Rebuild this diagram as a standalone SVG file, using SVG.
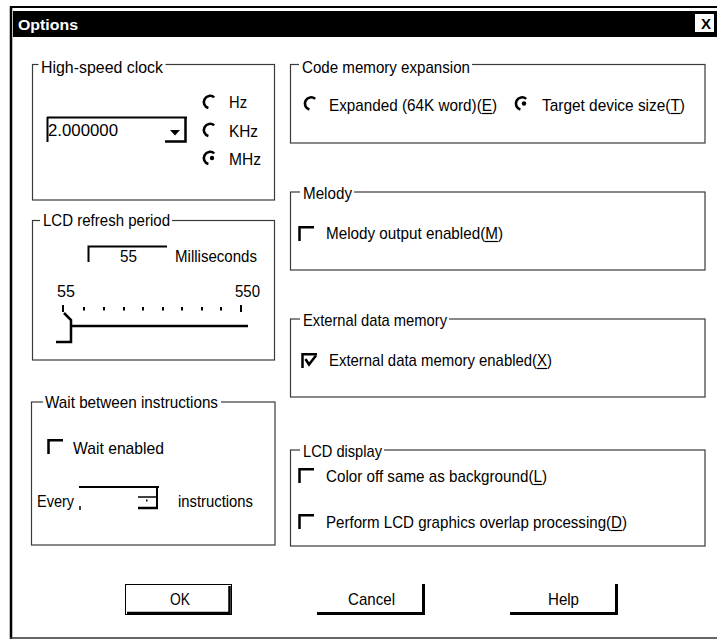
<svg xmlns="http://www.w3.org/2000/svg" width="717" height="639" viewBox="0 0 717 639">
<defs>
<style>
text{font-family:"Liberation Sans",Arial,sans-serif;font-size:17px;fill:#000}
.ttl{font-weight:bold;fill:#fff;font-size:14px}
.grp{fill:none;stroke:#3a3a3a;stroke-width:1.2}
.gap{fill:#fff}
.ln{fill:none;stroke:#000;stroke-width:2.5}
.tk{stroke:#000;stroke-width:2}
.ul{stroke:#000;stroke-width:1.2}
.mid{text-anchor:middle}
</style>
<path id="radio" d="M4.2,-4.6 A6.2,6.2 0 1 0 -1.6,6" fill="none" stroke="#000" stroke-width="2.6"/>
<path id="chk" d="M0.5,15 V1.2 H15" fill="none" stroke="#000" stroke-width="2.5"/>
</defs>
<rect width="717" height="639" fill="#fff"/>

<g id="frame">
<line x1="11" y1="6" x2="11" y2="639" stroke="#000" stroke-width="2.5"/>
<line x1="10" y1="7" x2="717" y2="7" stroke="#000" stroke-width="2"/>
<line x1="10" y1="638" x2="717" y2="638" stroke="#333" stroke-width="1.5"/>
</g>

<g id="titlebar">
<rect x="13" y="11" width="704" height="26" fill="#000"/>
<text class="ttl" x="18" y="30" textLength="60" lengthAdjust="spacingAndGlyphs">Options</text>
<rect x="695" y="14" width="19" height="18" fill="#fff"/>
<text x="706" y="28.5" class="mid" style="font-weight:bold;font-size:15px">X</text>
</g>

<g id="high-speed-clock">
<rect class="grp" x="32.5" y="64.5" width="242" height="135.5"/>
<rect class="gap" x="38.5" y="56" width="127" height="16"/>
<text x="41" y="73" textLength="122" lengthAdjust="spacingAndGlyphs">High-speed clock</text>
<path d="M47,117.5 H187 M47.5,117 V142" fill="none" stroke="#000" stroke-width="2"/>
<path d="M185.5,117 V141.5 H165" class="ln"/>
<polygon points="170,130 180,130 175,135.5" fill="#000"/>
<text x="48" y="136" textLength="70" lengthAdjust="spacingAndGlyphs">2.000000</text>
<use href="#radio" x="210" y="102"/>
<text x="229" y="108" textLength="18" lengthAdjust="spacingAndGlyphs">Hz</text>
<use href="#radio" x="210" y="130"/>
<text x="229" y="137" textLength="29" lengthAdjust="spacingAndGlyphs">KHz</text>
<use href="#radio" x="210" y="158"/>
<circle cx="212" cy="158" r="2.2" fill="#000"/>
<text x="229" y="165" textLength="32" lengthAdjust="spacingAndGlyphs">MHz</text>
</g>

<g id="lcd-refresh-period">
<rect class="grp" x="32.5" y="220.5" width="242" height="139.5"/>
<rect class="gap" x="40" y="212" width="132" height="16"/>
<text x="43" y="226" textLength="127" lengthAdjust="spacingAndGlyphs">LCD refresh period</text>
<path d="M88.5,262 V246.5 H167" fill="none" stroke="#000" stroke-width="2"/>
<text x="120" y="262" textLength="17" lengthAdjust="spacingAndGlyphs">55</text>
<text x="175" y="262" textLength="82" lengthAdjust="spacingAndGlyphs">Milliseconds</text>
<text x="57" y="297" textLength="18" lengthAdjust="spacingAndGlyphs">55</text>
<text x="235" y="297" textLength="25" lengthAdjust="spacingAndGlyphs">550</text>
<path class="tk" d="M63,305 V312 M84,307 V310.5 M104,307 V310.5 M124,307 V310.5 M143,307 V310.5 M163,307 V310.5 M182,307 V310.5 M202,307 V310.5 M221,307 V310.5 M241,305 V312"/>
<path d="M70,326 H248" class="ln"/>
<path d="M64,313 L71,320 V342 H56" class="ln"/>
</g>

<g id="wait-between-instructions">
<rect class="grp" x="31.5" y="402" width="243.5" height="143"/>
<rect class="gap" x="43" y="394" width="178" height="16"/>
<text x="45" y="408" textLength="173" lengthAdjust="spacingAndGlyphs">Wait between instructions</text>
<use href="#chk" x="48" y="439"/>
<text x="73" y="454" textLength="91" lengthAdjust="spacingAndGlyphs">Wait enabled</text>
<text x="37" y="507" textLength="37" lengthAdjust="spacingAndGlyphs">Every</text>
<path d="M79,487 H159" fill="none" stroke="#000" stroke-width="2"/>
<path d="M157,487 V508" fill="none" stroke="#000" stroke-width="2"/>
<path d="M138,497 H157" fill="none" stroke="#000" stroke-width="1.5"/>
<path d="M138,508 H158" class="ln"/>
<rect x="146" y="499.5" width="1.5" height="2" fill="#000"/>
<path d="M80,506 V510" fill="none" stroke="#000" stroke-width="1.5"/>
<text x="178" y="507" textLength="75" lengthAdjust="spacingAndGlyphs">instructions</text>
</g>

<g id="code-memory-expansion">
<rect class="grp" x="290.5" y="64.5" width="414.5" height="78.5"/>
<rect class="gap" x="299" y="56" width="173" height="16"/>
<text x="302" y="73" textLength="168" lengthAdjust="spacingAndGlyphs">Code memory expansion</text>
<use href="#radio" x="311" y="103.5"/>
<text x="329" y="111" textLength="168" lengthAdjust="spacingAndGlyphs">Expanded (64K word)(E)</text>
<line class="ul" x1="482" y1="113.5" x2="492" y2="113.5"/>
<use href="#radio" x="522" y="103.5"/>
<circle cx="524" cy="103.5" r="2.2" fill="#000"/>
<text x="542" y="111" textLength="143" lengthAdjust="spacingAndGlyphs">Target device size(T)</text>
<line class="ul" x1="670.5" y1="113.5" x2="680" y2="113.5"/>
</g>

<g id="melody">
<rect class="grp" x="290.5" y="192" width="414.5" height="78"/>
<rect class="gap" x="300" y="184" width="54" height="16"/>
<text x="303" y="199" textLength="49" lengthAdjust="spacingAndGlyphs">Melody</text>
<use href="#chk" x="299" y="226"/>
<text x="326" y="239" textLength="177" lengthAdjust="spacingAndGlyphs">Melody output enabled(M)</text>
<line class="ul" x1="485" y1="241.5" x2="498" y2="241.5"/>
</g>

<g id="external-data-memory">
<rect class="grp" x="290.5" y="319" width="414.5" height="78"/>
<rect class="gap" x="300" y="311" width="149" height="16"/>
<text x="303" y="326" textLength="144" lengthAdjust="spacingAndGlyphs">External data memory</text>
<use href="#chk" x="302" y="353"/>
<path d="M305.5,359 L309,364.5 L316,355.5" fill="none" stroke="#000" stroke-width="2.5"/>
<text x="329" y="366" textLength="223" lengthAdjust="spacingAndGlyphs">External data memory enabled(X)</text>
<line class="ul" x1="537" y1="368.5" x2="547" y2="368.5"/>
</g>

<g id="lcd-display">
<rect class="grp" x="290.5" y="450" width="414.5" height="96"/>
<rect class="gap" x="300" y="442" width="84" height="16"/>
<text x="303" y="457" textLength="79" lengthAdjust="spacingAndGlyphs">LCD display</text>
<use href="#chk" x="299" y="468"/>
<text x="326" y="482" textLength="221" lengthAdjust="spacingAndGlyphs">Color off same as background(L)</text>
<line class="ul" x1="533.5" y1="484.5" x2="542" y2="484.5"/>
<use href="#chk" x="299" y="514"/>
<text x="326" y="528" textLength="301" lengthAdjust="spacingAndGlyphs">Perform LCD graphics overlap processing(D)</text>
<line class="ul" x1="611" y1="530.5" x2="622" y2="530.5"/>
</g>

<g id="btn-ok">
<rect x="125.5" y="584.5" width="106" height="30" fill="#fff" stroke="#000" stroke-width="1"/>
<path d="M229.5,586 V613 H127" class="ln"/>
<text x="180" y="605" class="mid" textLength="20" lengthAdjust="spacingAndGlyphs">OK</text>
</g>
<g id="btn-cancel">
<path d="M317,613.5 H423.5 V584" fill="none" stroke="#000" stroke-width="3"/>
<text x="371.5" y="605" class="mid" textLength="47" lengthAdjust="spacingAndGlyphs">Cancel</text>
</g>
<g id="btn-help">
<path d="M510,613.5 H616.5 V584" fill="none" stroke="#000" stroke-width="3"/>
<text x="563.5" y="605" class="mid" textLength="31" lengthAdjust="spacingAndGlyphs">Help</text>
</g>
</svg>
